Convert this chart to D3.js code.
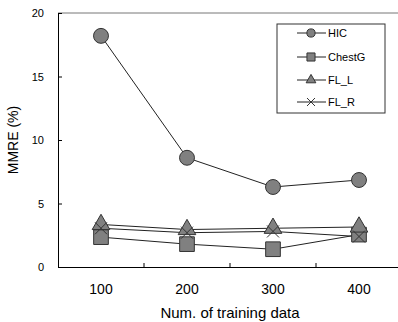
<!DOCTYPE html>
<html>
<head>
<meta charset="utf-8">
<script src="https://cdn.jsdelivr.net/npm/d3@7"></script>
<style>
  body { margin: 0; background: #fff; }
  text { font-family: "Liberation Sans", Arial, sans-serif; fill: #000; }
</style>
</head>
<body>
<div id="chart"></div>
<script>
'use strict';

var categories = ['100', '200', '300', '400'];
var hic = [18.2, 8.6, 6.3, 6.85];
var chestG = [2.35, 1.8, 1.4, 2.55];
var flL = [3.35, 2.95, 3.05, 3.15];
var flR = [3.05, 2.7, 2.8, 2.4];
var yTicks = [0, 5, 10, 15, 20];

var series = [
    {name: 'HIC', values: hic, shape: 'circle'},
    {name: 'ChestG', values: chestG, shape: 'square'},
    {name: 'FL_L', values: flL, shape: 'triangle'},
    {name: 'FL_R', values: flR, shape: 'cross'}
];

var svg = d3.select('#chart')
    .append('svg')
        .attr('width', 398)
        .attr('height', 322);

svg.append('rect').attr('width', 398).attr('height', 322).attr('fill', '#fff');

var margin = {top: 13, left: 58},
    width = 344,
    height = 254,
    g = svg.append('g')
        .attr('transform', 'translate(' + margin.left + ',' + margin.top + ')');

var xScale = d3.scaleBand().domain(categories).range([0, width]);
var yScale = d3.scaleLinear().domain([0, 20]).range([height, 0]);

// frame
g.append('line').attr('x1', 0).attr('x2', width).attr('y1', 0).attr('y2', 0)
    .attr('stroke', '#777').attr('stroke-width', 1);

var yAxis = d3.axisLeft(yScale).tickValues(yTicks)
    .tickSizeInner(-4).tickSizeOuter(0).tickPadding(14);
var yg = g.append('g').call(yAxis);
yg.select('.domain').attr('stroke', '#000');
yg.selectAll('text').attr('font-size', 11);

var xAxis = d3.axisBottom(xScale).tickSize(0).tickPadding(17);
var xg = g.append('g').attr('transform', 'translate(0,' + height + ')').call(xAxis);
xg.select('.domain').attr('stroke', '#000');
xg.selectAll('text').attr('font-size', 14);

// tick marks between categories
g.selectAll('.xtick')
    .data(categories.slice(1))
    .enter().append('line')
        .attr('class', 'xtick')
        .attr('x1', function(d) { return xScale(d); })
        .attr('x2', function(d) { return xScale(d); })
        .attr('y1', height)
        .attr('y2', height - 4)
        .attr('stroke', '#000');

var symbolFor = function(shape, big) {
    var s = big ? 1 : 0.55;
    if (shape === 'circle') return d3.symbol(d3.symbolCircle, 175 * s * s)();
    if (shape === 'square') return d3.symbol(d3.symbolSquare, 215 * s * s)();
    if (shape === 'triangle') return d3.symbol(d3.symbolTriangle, 135 * s * s)();
    var r = big ? 6 : 4;
    return 'M' + (-r) + ',' + (-r) + 'L' + r + ',' + r + 'M' + (-r) + ',' + r + 'L' + r + ',' + (-r);
};

var line = d3.line()
    .x(function(d, i) { return xScale(categories[i]) + xScale.bandwidth() / 2; })
    .y(function(d) { return yScale(d); });

series.forEach(function(s) {
    g.append('path')
        .attr('d', line(s.values))
        .attr('fill', 'none')
        .attr('stroke', '#222')
        .attr('stroke-width', 1);
});

series.forEach(function(s) {
    g.selectAll('.m-' + s.shape)
        .data(s.values)
        .enter().append('path')
            .attr('class', 'm-' + s.shape)
            .attr('transform', function(d, i) {
                return 'translate(' + (xScale(categories[i]) + xScale.bandwidth() / 2) + ',' + yScale(d) + ')';
            })
            .attr('d', symbolFor(s.shape, true))
            .attr('fill', s.shape === 'cross' ? 'none' : '#808080')
            .attr('stroke', '#333')
            .attr('stroke-width', 1);
});

// legend
var legend = svg.append('g').attr('transform', 'translate(277,24)');
legend.append('rect')
    .attr('width', 108).attr('height', 89)
    .attr('fill', '#fff').attr('stroke', '#333');

var item = legend.selectAll('.item')
    .data(series)
    .enter().append('g')
        .attr('class', 'item')
        .attr('transform', function(d, i) { return 'translate(0,' + [9, 33, 56, 78][i] + ')'; });

item.append('line')
    .attr('x1', 20).attr('x2', 49)
    .attr('stroke', '#222');
item.append('path')
    .attr('transform', 'translate(34,0)')
    .attr('d', function(d) { return symbolFor(d.shape, false); })
    .attr('fill', function(d) { return d.shape === 'cross' ? 'none' : '#808080'; })
    .attr('stroke', '#333');
item.append('text')
    .attr('x', 51).attr('dy', '0.35em')
    .attr('font-size', 11)
    .text(function(d) { return d.name; });

// axis titles
svg.append('text')
    .attr('transform', 'translate(18,140) rotate(-90)')
    .attr('text-anchor', 'middle')
    .attr('font-size', 14)
    .text('MMRE (%)');

svg.append('text')
    .attr('x', 230).attr('y', 318)
    .attr('text-anchor', 'middle')
    .attr('font-size', 15)
    .text('Num. of training data');
</script>
</body>
</html>
